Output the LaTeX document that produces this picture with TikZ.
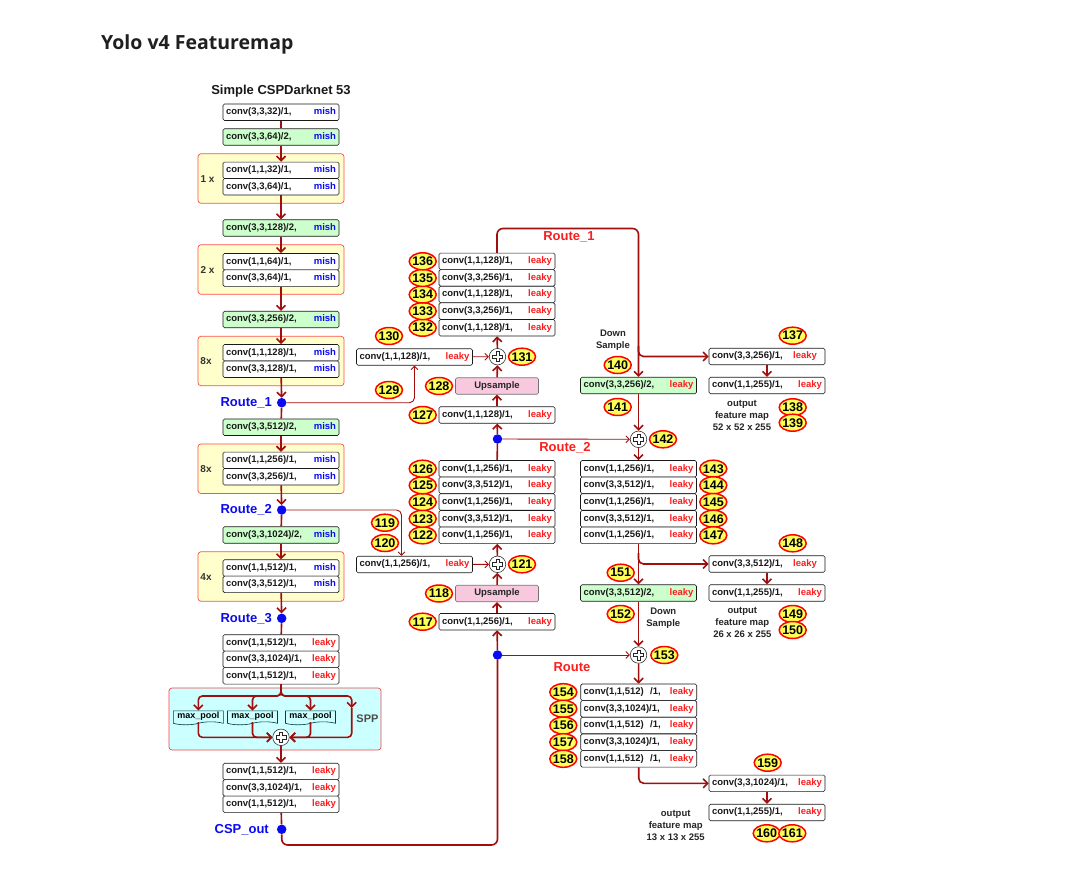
\documentclass[tikz,border=0pt]{standalone}
\usepackage{fontspec}
\setmainfont{Liberation Sans}
\newfontfamily\headfont{Open Sans}
\usetikzlibrary{arrows.meta,shapes.geometric,shapes.symbols}

\definecolor{wire}{RGB}{160,14,14}
\definecolor{dotblue}{RGB}{10,10,240}
\definecolor{labred}{RGB}{250,30,30}
\definecolor{dsgreen}{RGB}{204,255,204}
\definecolor{grpyellow}{RGB}{255,255,204}
\definecolor{sppcyan}{RGB}{204,255,255}
\definecolor{uppink}{RGB}{248,200,222}
\definecolor{tagyellow}{RGB}{255,255,90}

\newcommand{\mish}{\textcolor{dotblue}{mish}}
\newcommand{\leaky}{\textcolor{labred}{leaky}}

\begin{document}
\begin{tikzpicture}[x=1pt,y=-1pt,
  layer/.style={draw=black!90, fill=white, rounded corners=1.5pt, line width=0.6pt,
    minimum height=16.5pt, text width=110pt, inner xsep=3pt, inner ysep=0pt,
    align=left, text=black!90, font=\fontsize{9.5}{10}\selectfont\bfseries},
  dslayer/.style={layer, fill=dsgreen},
  upbox/.style={draw=black!55, fill=uppink, rounded corners=1.5pt, line width=0.6pt,
    minimum width=83pt, minimum height=16.5pt, inner sep=0pt, text=black!85,
    font=\fontsize{9.5}{10}\selectfont\bfseries},
  grp/.style={draw=red!70, fill=grpyellow, rounded corners=3pt, line width=0.7pt,
    minimum width=146pt, minimum height=49.5pt, inner sep=0pt},
  sppbox/.style={draw=red!75, fill=sppcyan, rounded corners=3pt, line width=0.7pt,
    minimum width=212pt, minimum height=62pt, inner sep=0pt},
  pool/.style={tape, tape bend top=none, tape bend height=3pt, draw=teal!50!black,
    fill=sppcyan, line width=0.6pt, minimum width=50pt, minimum height=14pt,
    inner sep=0pt, font=\fontsize{9}{9}\selectfont\bfseries},
  tag/.style={ellipse, draw=red, fill=tagyellow, line width=1.5pt, inner xsep=-5pt,
    inner ysep=0pt, minimum width=27pt, minimum height=17pt,
    font=\fontsize{12.5}{12.5}\selectfont\bfseries},
  hub/.style={circle, fill=dotblue, inner sep=0pt, minimum size=9.5pt},
  sumnode/.style={circle, draw=black!80, fill=white, line width=0.6pt,
    minimum size=16.5pt, inner sep=0pt,
    path picture={
      \draw[black!85, line width=0.7pt, fill=white, shift={(path picture bounding box.center)}]
        (-5,-1.6) -- (-1.6,-1.6) -- (-1.6,-5) -- (1.6,-5) -- (1.6,-1.6) -- (5,-1.6)
        -- (5,1.6) -- (1.6,1.6) -- (1.6,5) -- (-1.6,5) -- (-1.6,1.6) -- (-5,1.6) -- cycle;}},
  wireline/.style={draw=wire, line width=1.6pt},
  wirearr/.style={draw=wire, line width=1.6pt, -{Straight Barb[length=4.5pt,width=9pt]}},
  thinarr/.style={draw=wire, line width=0.9pt, -{Straight Barb[length=3.5pt,width=7pt]}},
  lab/.style={font=\fontsize{13}{13}\selectfont\bfseries, inner sep=0pt},
  cnt/.style={font=\fontsize{10}{10}\selectfont\bfseries, text=black!80, inner sep=0pt},
  note/.style={font=\fontsize{9.5}{12}\selectfont\bfseries, text=black!85, align=center, inner sep=0pt}]

\useasboundingbox (0,0) rectangle (1065,881);
\fill[white] (0,0) rectangle (1065,881);

\node[anchor=base west, inner sep=0pt, text=black!88, font=\headfont\bfseries\fontsize{19.5}{20}\selectfont] (head) at (101,49.5) {Yolo v4 Featuremap};

% backbone
\node[font=\fontsize{13}{13}\selectfont\bfseries, text=black!90, inner sep=0pt] (sub) at (281,91.5) {Simple CSPDarknet 53};
\node[grp] (g1) at (271,178.5) {};
\node[grp] (g2) at (271,269.5) {};
\node[grp] (g3) at (271,361) {};
\node[grp] (g4) at (271,468.7) {};
\node[grp] (g5) at (271,576.5) {};
\node[cnt] (g1n) at (207.5,179) {1 x};
\node[cnt] (g2n) at (207.5,270) {2 x};
\node[cnt] (g3n) at (206,361.5) {8x};
\node[cnt] (g4n) at (206,469) {8x};
\node[cnt] (g5n) at (206,577) {4x};
\node[sppbox] (spp) at (275,719) {};
\node[font=\fontsize{11}{11}\selectfont\bfseries, text=black!70, inner sep=0pt] (sppn) at (367.5,719) {SPP};

\node[layer] (c1) at (281,112.2) {conv(3,3,32)/1,\hfill\mish};
\node[dslayer] (d1) at (281,137) {conv(3,3,64)/2,\hfill\mish};
\node[layer] (b1a) at (281,170.3) {conv(1,1,32)/1,\hfill\mish};
\node[layer] (b1b) at (281,186.7) {conv(3,3,64)/1,\hfill\mish};
\node[dslayer] (d2) at (281,228) {conv(3,3,128)/2,\hfill\mish};
\node[layer] (b2a) at (281,261.7) {conv(1,1,64)/1,\hfill\mish};
\node[layer] (b2b) at (281,278.1) {conv(3,3,64)/1,\hfill\mish};
\node[dslayer] (d3) at (281,319.5) {conv(3,3,256)/2,\hfill\mish};
\node[layer] (b3a) at (281,352.7) {conv(1,1,128)/1,\hfill\mish};
\node[layer] (b3b) at (281,369.2) {conv(3,3,128)/1,\hfill\mish};
\node[hub] (r1) at (281.7,402.7) {};
\node[dslayer] (d4) at (281,427.2) {conv(3,3,512)/2,\hfill\mish};
\node[layer] (b4a) at (281,460.3) {conv(1,1,256)/1,\hfill\mish};
\node[layer] (b4b) at (281,476.7) {conv(3,3,256)/1,\hfill\mish};
\node[hub] (r2) at (281.7,510) {};
\node[dslayer] (d5) at (281,535) {conv(3,3,1024)/2,\hfill\mish};
\node[layer] (b5a) at (281,568) {conv(1,1,512)/1,\hfill\mish};
\node[layer] (b5b) at (281,584.4) {conv(3,3,512)/1,\hfill\mish};
\node[hub] (r3) at (281.7,618.3) {};
\node[layer] (h1) at (281,643) {conv(1,1,512)/1,\hfill\leaky};
\node[layer] (h2) at (281,659.4) {conv(3,3,1024)/1,\hfill\leaky};
\node[layer] (h3) at (281,675.8) {conv(1,1,512)/1,\hfill\leaky};
\node[pool] (mp1) at (198.3,716.3) {max\_pool};
\node[pool] (mp2) at (252.5,716.3) {max\_pool};
\node[pool] (mp3) at (310.5,716.3) {max\_pool};
\node[sumnode] (ssum) at (281,737.3) {};
\node[layer] (t1) at (281,771.5) {conv(1,1,512)/1,\hfill\leaky};
\node[layer] (t2) at (281,787.9) {conv(3,3,1024)/1,\hfill\leaky};
\node[layer] (t3) at (281,804.3) {conv(1,1,512)/1,\hfill\leaky};
\node[hub] (csp) at (281.7,829.3) {};

\node[lab, text=dotblue, anchor=east] (lr1) at (272,402.7) {Route\_1};
\node[lab, text=dotblue, anchor=east] (lr2) at (272,510) {Route\_2};
\node[lab, text=dotblue, anchor=east] (lr3) at (272,618.3) {Route\_3};
\node[lab, text=dotblue, anchor=east] (lcsp) at (269,829.3) {CSP\_out};

% neck
\node[layer] (m136) at (497,261.3) {conv(1,1,128)/1,\hfill\leaky};
\node[layer] (m135) at (497,277.9) {conv(3,3,256)/1,\hfill\leaky};
\node[layer] (m134) at (497,294.5) {conv(1,1,128)/1,\hfill\leaky};
\node[layer] (m133) at (497,311.1) {conv(3,3,256)/1,\hfill\leaky};
\node[layer] (m132) at (497,327.7) {conv(1,1,128)/1,\hfill\leaky};
\node[layer] (m130) at (414.5,357) {conv(1,1,128)/1,\hfill\leaky};
\node[sumnode] (s131) at (497.5,356.7) {};
\node[upbox] (up128) at (497,386) {Upsample};
\node[layer] (m127) at (497,415) {conv(1,1,128)/1,\hfill\leaky};
\node[hub] (rm2) at (497.5,439) {};
\node[layer] (m126) at (497,468.7) {conv(1,1,256)/1,\hfill\leaky};
\node[layer] (m125) at (497,485.3) {conv(3,3,512)/1,\hfill\leaky};
\node[layer] (m124) at (497,502) {conv(1,1,256)/1,\hfill\leaky};
\node[layer] (m123) at (497,518.7) {conv(3,3,512)/1,\hfill\leaky};
\node[layer] (m122) at (497,535.3) {conv(1,1,256)/1,\hfill\leaky};
\node[layer] (m120) at (414.5,564.5) {conv(1,1,256)/1,\hfill\leaky};
\node[sumnode] (s121) at (497.5,564.3) {};
\node[upbox] (up118) at (497,593.5) {Upsample};
\node[layer] (m117) at (497,621.7) {conv(1,1,256)/1,\hfill\leaky};
\node[hub] (rm3) at (497.5,655) {};

% heads
\node[dslayer] (n140) at (638.5,385.5) {conv(3,3,256)/2,\hfill\leaky};
\node[sumnode] (s142) at (638.5,439.3) {};
\node[layer] (n143) at (638.5,468.7) {conv(1,1,256)/1,\hfill\leaky};
\node[layer] (n144) at (638.5,485.3) {conv(3,3,512)/1,\hfill\leaky};
\node[layer] (n145) at (638.5,502) {conv(1,1,256)/1,\hfill\leaky};
\node[layer] (n146) at (638.5,518.7) {conv(3,3,512)/1,\hfill\leaky};
\node[layer] (n147) at (638.5,535.3) {conv(1,1,256)/1,\hfill\leaky};
\node[dslayer] (n151) at (638.5,593) {conv(3,3,512)/2,\hfill\leaky};
\node[sumnode] (s153) at (638.5,655) {};
\node[layer] (n154) at (638.7,692.2) {conv(1,1,512)\ \ /1,\hfill\leaky};
\node[layer] (n155) at (638.7,708.8) {conv(3,3,1024)/1,\hfill\leaky};
\node[layer] (n156) at (638.7,725.5) {conv(1,1,512)\ \ /1,\hfill\leaky};
\node[layer] (n157) at (638.7,742.2) {conv(3,3,1024)/1,\hfill\leaky};
\node[layer] (n158) at (638.7,758.8) {conv(1,1,512)\ \ /1,\hfill\leaky};

\node[layer] (n137) at (767,356.5) {conv(3,3,256)/1,\hfill\leaky\hspace*{5pt}};
\node[layer] (o137) at (767,385.5) {conv(1,1,255)/1,\hfill\leaky};
\node[layer] (n148) at (767,564) {conv(3,3,512)/1,\hfill\leaky\hspace*{5pt}};
\node[layer] (o148) at (767,593) {conv(1,1,255)/1,\hfill\leaky};
\node[layer] (n159) at (767,783.3) {conv(3,3,1024)/1,\hfill\leaky};
\node[layer] (o159) at (767,812.5) {conv(1,1,255)/1,\hfill\leaky};

\node[note] (ds1) at (613,340.5) {Down\\Sample};
\node[note] (ds2) at (663.3,618) {Down\\Sample};
\node[note] (out52) at (742,415) {output\\feature map\\52 x 52 x 255};
\node[note] (out26) at (742.3,622) {output\\feature map\\26 x 26 x 255};
\node[note] (out13) at (675.7,825) {output\\feature map\\13 x 13 x 255};
\node[lab, text=labred] (tr1) at (569,237) {Route\_1};
\node[lab, text=labred] (tr2) at (565,447.5) {Route\_2};
\node[lab, text=labred] (tr3) at (572,667.3) {Route};

% badges
\node[tag] (k117) at (422.7,621.7) {117};
\node[tag] (k118) at (439,593.5) {118};
\node[tag] (k119) at (385,522.7) {119};
\node[tag] (k120) at (385,543) {120};
\node[tag] (k121) at (522,564.3) {121};
\node[tag] (k122) at (422.7,535.3) {122};
\node[tag] (k123) at (422.7,518.7) {123};
\node[tag] (k124) at (422.7,502) {124};
\node[tag] (k125) at (422.7,485.3) {125};
\node[tag] (k126) at (422.7,468.7) {126};
\node[tag] (k127) at (422.7,415) {127};
\node[tag] (k128) at (439,386) {128};
\node[tag] (k129) at (389,390) {129};
\node[tag] (k130) at (389,336) {130};
\node[tag] (k131) at (522,356.7) {131};
\node[tag] (k132) at (422.7,327.7) {132};
\node[tag] (k133) at (422.7,311.1) {133};
\node[tag] (k134) at (422.7,294.5) {134};
\node[tag] (k135) at (422.7,277.9) {135};
\node[tag] (k136) at (422.7,261.3) {136};
\node[tag] (k137) at (792.7,335.7) {137};
\node[tag] (k138) at (792.7,407.3) {138};
\node[tag] (k139) at (792.7,422.7) {139};
\node[tag] (k140) at (617.7,365) {140};
\node[tag] (k141) at (617.7,407) {141};
\node[tag] (k142) at (663,439.3) {142};
\node[tag] (k143) at (713.3,468.7) {143};
\node[tag] (k144) at (713.3,485.3) {144};
\node[tag] (k145) at (713.3,502) {145};
\node[tag] (k146) at (713.3,518.7) {146};
\node[tag] (k147) at (713.3,535.3) {147};
\node[tag] (k148) at (792.7,543.3) {148};
\node[tag] (k149) at (792.7,614) {149};
\node[tag] (k150) at (792.7,630) {150};
\node[tag] (k151) at (620.7,572.7) {151};
\node[tag] (k152) at (620.7,614) {152};
\node[tag] (k153) at (664.3,655) {153};
\node[tag] (k154) at (563.3,692.2) {154};
\node[tag] (k155) at (563.3,708.8) {155};
\node[tag] (k156) at (563.3,725.5) {156};
\node[tag] (k157) at (563.3,742.2) {157};
\node[tag] (k158) at (563.3,758.8) {158};
\node[tag] (k159) at (767.7,762.7) {159};
\node[tag] (k160) at (766.7,833.3) {160};
\node[tag] (k161) at (792.3,833.3) {161};

\coordinate (fork) at (281,696);
\coordinate (sppr) at (351.7,708);
\coordinate (cspturn) at (497.5,845);
\coordinate (top1) at (638.5,228.5);
\coordinate (split1) at (638.5,346);
\coordinate (split2) at (638.5,553);

% backbone wires
\draw[wireline] (c1) -- (d1);
\draw[wirearr] (d1) -- (b1a);
\draw[wirearr] (b1b) -- (d2);
\draw[wirearr] (d2) -- (b2a);
\draw[wirearr] (b2b) -- (d3);
\draw[wirearr] (d3) -- (b3a);
\draw[wirearr] (b3b) -- (r1);
\draw[wireline] (r1) -- (d4);
\draw[wirearr] (d4) -- (b4a);
\draw[wirearr] (b4b) -- (r2);
\draw[wireline] (r2) -- (d5);
\draw[wirearr] (d5) -- (b5a);
\draw[wirearr] (b5b) -- (r3);
\draw[wireline] (r3) -- (h1);
\draw[wirearr, rounded corners=4pt] (h3.south) -- (fork) -| (mp1.north);
\draw[wirearr, rounded corners=4pt] (h3.south) -- (fork) -| (mp2.north);
\draw[wirearr, rounded corners=4pt] (h3.south) -- (fork) -| (mp3.north);
\draw[wirearr, rounded corners=4pt] (h3.south) -- (fork) -| (sppr);
\draw[wirearr, rounded corners=4pt] (mp1.south) |- (ssum.west);
\draw[wirearr, rounded corners=4pt] (mp2.south) |- (ssum.west);
\draw[wirearr, rounded corners=4pt] (mp3.south) |- (ssum.east);
\draw[wirearr, rounded corners=4pt] (sppr) |- (ssum.east);
\draw[wirearr] (ssum) -- (t1);
\draw[wireline] (t3) -- (csp);

% neck wires
\draw[wireline, rounded corners=6pt] (csp) |- (cspturn) -- (rm3);
\draw[wirearr] (rm3) -- (m117);
\draw[wirearr] (m117) -- (up118);
\draw[wirearr] (up118) -- (s121);
\draw[wirearr] (s121) -- (m122);
\draw[wireline] (m126) -- (rm2);
\draw[wirearr] (rm2) -- (m127);
\draw[wirearr] (m127) -- (up128);
\draw[wirearr] (up128) -- (s131);
\draw[wirearr] (s131) -- (m132);
\draw[thinarr, rounded corners=5pt] (r1) -| (m130.south);
\draw[thinarr, rounded corners=5pt] (r2) -| ([xshift=-13pt]m120.north);
\draw[thinarr] (m130) -- (s131);
\draw[thinarr] (m120) -- (s121);

% head wires
\draw[wirearr, rounded corners=6pt] (m136.north) |- (top1) -- (n140.north);
\draw[wirearr, rounded corners=5pt] (split1) |- (n137.west);
\draw[wirearr] (n137) -- (o137);
\draw[wirearr] (n140) -- (s142);
\draw[thinarr] (rm2) -- (s142);
\draw[wirearr] (s142) -- (n143);
\draw[wirearr] (n147) -- (n151);
\draw[wirearr, rounded corners=5pt] (split2) |- (n148.west);
\draw[wirearr] (n148) -- (o148);
\draw[wirearr] (n151) -- (s153);
\draw[thinarr] (rm3) -- (s153);
\draw[wirearr] (s153) -- (n154);
\draw[wirearr, rounded corners=5pt] (n158.south) |- (n159.west);
\draw[wirearr] (n159) -- (o159);
\end{tikzpicture}
\end{document}
